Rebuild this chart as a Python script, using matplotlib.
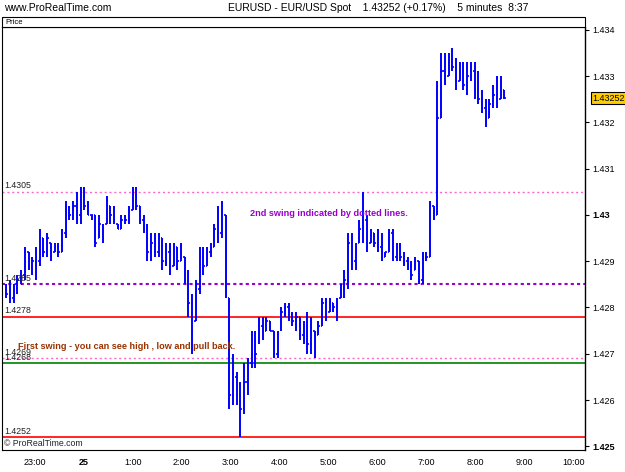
import numpy as np
import matplotlib
matplotlib.use("Agg")
import matplotlib.pyplot as plt
from matplotlib.patches import Rectangle

plt.rcParams["font.family"] = ["Liberation Sans", "DejaVu Sans"]

# 5-minute bars, EUR/USD, from about 22:25 to 08:35 (hours; midnight = 24)
first_bar = 22 + 25 / 60
last_bar = 32 + 35 / 60

opens = [
    1.4284, 1.4283, 1.4282, 1.4284, 1.4286, 1.4287, 1.4292, 1.4289, 1.4290, 1.4290,
    1.4295, 1.4292, 1.4294, 1.4292, 1.4293, 1.4292, 1.4296, 1.4301, 1.4300, 1.4302,
    1.4300, 1.4304, 1.4302, 1.4300, 1.4300, 1.4295, 1.4297, 1.4298, 1.4302, 1.4300,
    1.4298, 1.4297, 1.4299, 1.4299, 1.4301, 1.4303,
    1.4302, 1.4299, 1.4297, 1.4292, 1.4294, 1.4292, 1.4295, 1.4290, 1.4292, 1.4289,
    1.4293, 1.4290, 1.4291, 1.4286, 1.4281, 1.4277, 1.4284, 1.4291, 1.4289, 1.4292,
    1.4293, 1.4297, 1.4296, 1.4300,
    1.4282, 1.4261, 1.4265, 1.4261, 1.4258, 1.4264, 1.4268, 1.4273, 1.4273,
    1.4276, 1.4275, 1.4277, 1.4275, 1.4270, 1.4276, 1.4279, 1.4280, 1.4278, 1.4277,
    1.4278, 1.4274, 1.4276, 1.4272, 1.4275, 1.4274, 1.4276, 1.4281, 1.4279, 1.4281,
    1.4280, 1.4282, 1.4284, 1.4286, 1.4294, 1.4290, 1.4294, 1.4297, 1.4299, 1.4294,
    1.4296,
    1.4294, 1.4293, 1.4291, 1.4292, 1.4296, 1.4291, 1.4293, 1.4291, 1.4290, 1.4289,
    1.4288, 1.4290, 1.4286, 1.4291, 1.4291, 1.4302, 1.4300, 1.4321, 1.4331, 1.4330,
    1.4333, 1.4332, 1.4329, 1.4331, 1.4328, 1.4330, 1.4331, 1.4327, 1.4325, 1.4323,
    1.4321, 1.4324, 1.4326, 1.4325, 1.4327,
]
highs = [
    1.4285, 1.4286, 1.4285, 1.4287, 1.4288, 1.4293, 1.4292, 1.4291, 1.4293, 1.4297,
    1.4295, 1.4296, 1.4294, 1.4294, 1.4294, 1.4297, 1.4303, 1.4302, 1.4303, 1.4305,
    1.4306, 1.4306, 1.4303, 1.4300, 1.4300, 1.4300, 1.4298, 1.4304, 1.4302, 1.4302,
    1.4298, 1.4300, 1.4300, 1.4302, 1.4306, 1.4306,
    1.4302, 1.4300, 1.4298, 1.4296, 1.4296, 1.4296, 1.4295, 1.4294, 1.4294, 1.4294,
    1.4293, 1.4294, 1.4291, 1.4288, 1.4283, 1.4286, 1.4293, 1.4293, 1.4293, 1.4294,
    1.4298, 1.4302, 1.4303, 1.4300,
    1.4282, 1.4270, 1.4266, 1.4264, 1.4268, 1.4269, 1.4275, 1.4275, 1.4278,
    1.4278, 1.4278, 1.4277, 1.4275, 1.4275, 1.4280, 1.4281, 1.4281, 1.4279, 1.4279,
    1.4278, 1.4277, 1.4279, 1.4278, 1.4275, 1.4277, 1.4282, 1.4282, 1.4282, 1.4281,
    1.4282, 1.4285, 1.4288, 1.4296, 1.4296, 1.4294, 1.4299, 1.4305, 1.4300, 1.4297,
    1.4296,
    1.4297, 1.4296, 1.4292, 1.4297, 1.4297, 1.4294, 1.4294, 1.4292, 1.4291, 1.4290,
    1.4291, 1.4290, 1.4292, 1.4292, 1.4303, 1.4302, 1.4329, 1.4335, 1.4335, 1.4335,
    1.4336, 1.4334, 1.4333, 1.4333, 1.4333, 1.4333, 1.4333, 1.4331, 1.4327, 1.4325,
    1.4325, 1.4328, 1.4330, 1.4330, 1.4327,
]
lows = [
    1.4282, 1.4281, 1.4281, 1.4283, 1.4285, 1.4286, 1.4288, 1.4287, 1.4286, 1.4289,
    1.4291, 1.4291, 1.4290, 1.4292, 1.4291, 1.4292, 1.4295, 1.4299, 1.4299, 1.4298,
    1.4298, 1.4301, 1.4300, 1.4299, 1.4293, 1.4295, 1.4294, 1.4298, 1.4298, 1.4298,
    1.4297, 1.4297, 1.4298, 1.4298, 1.4301, 1.4301,
    1.4298, 1.4296, 1.4290, 1.4290, 1.4291, 1.4291, 1.4288, 1.4289, 1.4287, 1.4289,
    1.4288, 1.4290, 1.4285, 1.4278, 1.4270, 1.4277, 1.4283, 1.4287, 1.4289, 1.4291,
    1.4293, 1.4294, 1.4295, 1.4282,
    1.4258, 1.4259, 1.4259, 1.4252, 1.4257, 1.4261, 1.4267, 1.4267, 1.4272,
    1.4273, 1.4275, 1.4275, 1.4269, 1.4269, 1.4275, 1.4278, 1.4277, 1.4276, 1.4275,
    1.4273, 1.4272, 1.4270, 1.4270, 1.4269, 1.4274, 1.4276, 1.4277, 1.4279, 1.4279,
    1.4277, 1.4282, 1.4282, 1.4284, 1.4288, 1.4288, 1.4294, 1.4294, 1.4292, 1.4294,
    1.4293,
    1.4292, 1.4290, 1.4291, 1.4292, 1.4290, 1.4290, 1.4290, 1.4289, 1.4288, 1.4286,
    1.4288, 1.4285, 1.4285, 1.4290, 1.4291, 1.4299, 1.4300, 1.4321, 1.4328, 1.4330,
    1.4331, 1.4327, 1.4329, 1.4327, 1.4326, 1.4329, 1.4325, 1.4324, 1.4322, 1.4319,
    1.4321, 1.4323, 1.4323, 1.4325, 1.4325,
]
closes = [
    1.4283, 1.4282, 1.4284, 1.4286, 1.4285, 1.4292, 1.4289, 1.4290, 1.4291, 1.4295,
    1.4292, 1.4295, 1.4291, 1.4293, 1.4292, 1.4296, 1.4301, 1.4300, 1.4302, 1.4300,
    1.4304, 1.4302, 1.4300, 1.4300, 1.4294, 1.4298, 1.4295, 1.4303, 1.4300, 1.4299,
    1.4297, 1.4299, 1.4299, 1.4301, 1.4303, 1.4302,
    1.4299, 1.4297, 1.4292, 1.4294, 1.4292, 1.4295, 1.4290, 1.4292, 1.4289, 1.4293,
    1.4290, 1.4292, 1.4286, 1.4281, 1.4274, 1.4284, 1.4291, 1.4289, 1.4292, 1.4293,
    1.4297, 1.4296, 1.4300, 1.4284,
    1.4261, 1.4267, 1.4261, 1.4258, 1.4264, 1.4266, 1.4273, 1.4270, 1.4276,
    1.4275, 1.4277, 1.4275, 1.4270, 1.4273, 1.4279, 1.4280, 1.4278, 1.4277, 1.4278,
    1.4274, 1.4276, 1.4272, 1.4276, 1.4271, 1.4276, 1.4281, 1.4279, 1.4281, 1.4280,
    1.4281, 1.4284, 1.4286, 1.4294, 1.4290, 1.4292, 1.4297, 1.4300, 1.4294, 1.4296,
    1.4294,
    1.4293, 1.4291, 1.4292, 1.4296, 1.4291, 1.4293, 1.4291, 1.4290, 1.4289, 1.4287,
    1.4290, 1.4286, 1.4291, 1.4291, 1.4302, 1.4300, 1.4321, 1.4331, 1.4330, 1.4333,
    1.4332, 1.4329, 1.4331, 1.4328, 1.4330, 1.4331, 1.4327, 1.4325, 1.4323, 1.4321,
    1.4324, 1.4326, 1.4325, 1.4328, 1.43252,
]

# swing levels: (price, colour, style, width)
levels = [
    (1.4305, "#ff66cc", (0, (1.5, 2)), 1.0),
    (1.4285, "#9900cc", (0, (1.5, 1.5)), 1.5),
    (1.4278, "#ff0000", "-", 1.2),
    (1.4269, "#ff66cc", (0, (1.5, 2)), 1.0),
    (1.4268, "#008000", "-", 1.2),
    (1.4252, "#ff0000", "-", 1.2),
]
level_labels = ["1.4305", "1.4285", "1.4278", "1.4269", "1.4268", "1.4252"]

hour_ticks = [23, 24, 25, 26, 27, 28, 29, 30, 31, 32, 33, 34]
hour_labels = ["23:00", "25", "1:00", "2:00", "3:00", "4:00", "5:00",
               "6:00", "7:00", "8:00", "9:00", "10:00"]
price_ticks = [1.425, 1.426, 1.427, 1.428, 1.429, 1.430, 1.431, 1.432, 1.433, 1.434]
price_labels = ["1.425", "1.426", "1.427", "1.428", "1.429", "1.43",
                "1.431", "1.432", "1.433", "1.434"]
last_price = "1.43252"

W, H = 625, 472
fig = plt.figure(figsize=(W / 100, H / 100), dpi=100)
ax = fig.add_axes([2 / W, 22 / H, 583 / W, 423 / H])

x = np.linspace(first_bar, last_bar, len(highs))
tick_w = 0.028
ax.vlines(x, lows, highs, color="#0000ff", lw=1.4, zorder=3)
ax.hlines(opens, x - tick_w, x, color="#0000ff", lw=1.2, zorder=3)
ax.hlines(closes, x, x + tick_w, color="#0000ff", lw=1.2, zorder=3)

for (price, col, ls, lw), lab in zip(levels, level_labels):
    ax.axhline(price, color=col, ls=ls, lw=lw, zorder=2)
    ax.text(22.37, price + 0.00003, lab, fontsize=6.3, color="#222222",
            ha="left", va="bottom", zorder=4)

ax.text(27.39, 1.43003, "2nd swing indicated by dotted lines.", color="#9900cc",
        fontsize=6.6, fontweight="bold", ha="left", va="center", zorder=4)
ax.text(22.65, 1.42716, "First swing - you can see high , low and pull back.",
        color="#993300", fontsize=6.6, fontweight="bold", ha="left",
        va="center", zorder=4)
ax.text(22.37, 1.42497, "\u00a9 ProRealTime.com", fontsize=6.3, color="#222222",
        ha="left", va="bottom")

ax.set_xlim(22.33, 34.23)
ax.set_ylim(1.42492, 1.43406)
ax.set_xticks(hour_ticks)
ax.set_xticklabels(hour_labels)
ax.get_xticklabels()[1].set_fontweight("bold")
ax.get_xticklabels()[1].set_fontsize(7.5)
ax.tick_params(axis="x", length=0, labelsize=6.5, pad=6)
ax.yaxis.tick_right()
ax.set_yticks(price_ticks)
ax.set_yticklabels(price_labels)
for t in ax.get_yticklabels():
    if t.get_text() in ("1.43", "1.425"):
        t.set_fontweight("bold")
        t.set_fontsize(7)
ax.tick_params(axis="y", length=3, width=0.8, labelsize=6.5, pad=2)
for s in ax.spines.values():
    s.set_linewidth(0.8)
ax.spines["right"].set_linewidth(1.0)

ax.annotate(last_price, xy=(1.0, 1.43252), xycoords=ax.get_yaxis_transform(),
            xytext=(5, 0), textcoords="offset points",
            fontsize=6.5, ha="left", va="center",
            bbox=dict(boxstyle="square,pad=0.15", fc="#ffcc00", ec="black", lw=0.8))

# header strip with "Price"
fig.patches.append(Rectangle((2 / W, (H - 27) / H), 583 / W, 10 / H,
                             transform=fig.transFigure, fc="white", ec="black",
                             lw=0.8))
fig.text(5 / W, (H - 22) / H, "Price", fontsize=5.5, va="center", ha="left")
fig.text(4 / W, (H - 8) / H, "www.ProRealTime.com", fontsize=7.5, va="center",
         ha="left")
fig.text(228 / W, (H - 8) / H,
         "EURUSD - EUR/USD Spot    1.43252 (+0.17%)    5 minutes  8:37",
         fontsize=7.5, va="center", ha="left")

fig.savefig("out.png", dpi=100)
